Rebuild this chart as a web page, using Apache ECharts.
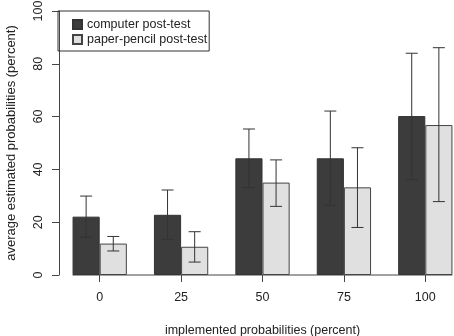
<!DOCTYPE html>
<html>
<head>
<meta charset="utf-8">
<script src="https://cdn.jsdelivr.net/npm/echarts@6/dist/echarts.min.js"></script>
<style>
  html, body { margin: 0; padding: 0; background: #fff; }
  #chart { width: 454px; height: 336px; }
</style>
</head>
<body>
<div id="chart"></div>
<script>
// data
var categories = ['0', '25', '50', '75', '100'];
var computerMean = [22.1, 22.8, 44.2, 44.2, 60.2];
var computerLow  = [14.3, 13.5, 33.1, 26.4, 36.1];
var computerHigh = [29.9, 32.2, 55.3, 62.1, 84.0];
var paperMean = [11.9, 10.7, 35.0, 33.2, 56.8];
var paperLow  = [9.1, 4.9, 26.0, 18.0, 27.8];
var paperHigh = [14.6, 16.4, 43.6, 48.2, 86.1];
var yTicks = [0, 20, 40, 60, 80, 100];

var axisColor = '#444';
var textColor = '#222';
var font = 'Liberation Sans, Arial, sans-serif';

function errData(low, high) {
  return low.map(function (l, i) { return [i, l, high[i]]; });
}

// error bars, shifted to the middle of the dark (-1) or light (+1) bar
function errRender(side) {
  return function (params, api) {
    var band = api.size([1, 0])[0];
    var dx = side * band / 6;
    var lo = api.coord([api.value(0), api.value(1)]);
    var hi = api.coord([api.value(0), api.value(2)]);
    var x = lo[0] + dx;
    var cap = 6;
    var st = { stroke: '#333', lineWidth: 1 };
    return {
      type: 'group',
      children: [
        { type: 'line', shape: { x1: x, y1: lo[1], x2: x, y2: hi[1] }, style: st },
        { type: 'line', shape: { x1: x - cap, y1: lo[1], x2: x + cap, y2: lo[1] }, style: st },
        { type: 'line', shape: { x1: x - cap, y1: hi[1], x2: x + cap, y2: hi[1] }, style: st }
      ]
    };
  };
}

var chart = echarts.init(document.getElementById('chart'));
chart.setOption({
  animation: false,
  textStyle: { fontFamily: font },
  grid: { left: 59, right: -12, top: 11, bottom: 61, outerBoundsMode: 'none' },
  legend: {
    orient: 'vertical',
    left: 58, top: 11,
    padding: [7, 2, 5, 14],
    itemGap: 2,
    itemWidth: 9, itemHeight: 9,
    borderColor: '#333', borderWidth: 1,
    textStyle: { fontSize: 12.5, color: textColor, fontFamily: font },
    data: [
      { name: 'computer post-test', icon: 'rect' },
      { name: 'paper-pencil post-test', icon: 'rect' }
    ]
  },
  xAxis: {
    type: 'category',
    data: categories,
    axisLine: { show: false },
    axisTick: { show: true, alignWithLabel: true, length: 7, lineStyle: { color: axisColor } },
    axisLabel: { color: textColor, fontSize: 12.5, margin: 16 },
    name: 'implemented probabilities (percent)',
    nameLocation: 'middle',
    nameGap: 49,
    nameTextStyle: { color: textColor, fontSize: 12.5 }
  },
  yAxis: {
    type: 'value',
    min: yTicks[0], max: yTicks[yTicks.length - 1], interval: 20,
    splitLine: { show: false },
    axisLine: { show: true, lineStyle: { color: axisColor } },
    axisTick: { show: true, length: 7, lineStyle: { color: axisColor } },
    axisLabel: { color: textColor, fontSize: 12.5, rotate: 90, margin: 14 },
    name: 'average estimated probabilities (percent)',
    nameLocation: 'middle',
    nameGap: 41,
    nameTextStyle: { color: textColor, fontSize: 13 }
  },
  series: [
    {
      name: 'computer post-test',
      type: 'bar',
      data: computerMean,
      barGap: '0%',
      barCategoryGap: '33.3%',
      itemStyle: { color: '#3c3c3c', borderColor: '#333', borderWidth: 1 }
    },
    {
      name: 'paper-pencil post-test',
      type: 'bar',
      data: paperMean,
      itemStyle: { color: '#e0e0e0', borderColor: '#444', borderWidth: 1 }
    },
    {
      name: 'baseline',
      type: 'custom',
      data: [[0, categories.length - 1]],
      encode: { x: [0, 1] },
      renderItem: function (params, api) {
        var band = api.size([1, 0])[0];
        var a = api.coord([api.value(0), 0]);
        var b = api.coord([api.value(1), 0]);
        return {
          type: 'line',
          shape: { x1: a[0] - band / 3, y1: a[1], x2: b[0] + band / 3, y2: b[1] },
          style: { stroke: axisColor, lineWidth: 1 }
        };
      },
      z: 1
    },
    {
      name: 'computer err',
      type: 'custom',
      data: errData(computerLow, computerHigh),
      encode: { x: 0, y: [1, 2] },
      renderItem: errRender(-1),
      z: 5
    },
    {
      name: 'paper err',
      type: 'custom',
      data: errData(paperLow, paperHigh),
      encode: { x: 0, y: [1, 2] },
      renderItem: errRender(1),
      z: 5
    }
  ]
});
</script>
</body>
</html>
